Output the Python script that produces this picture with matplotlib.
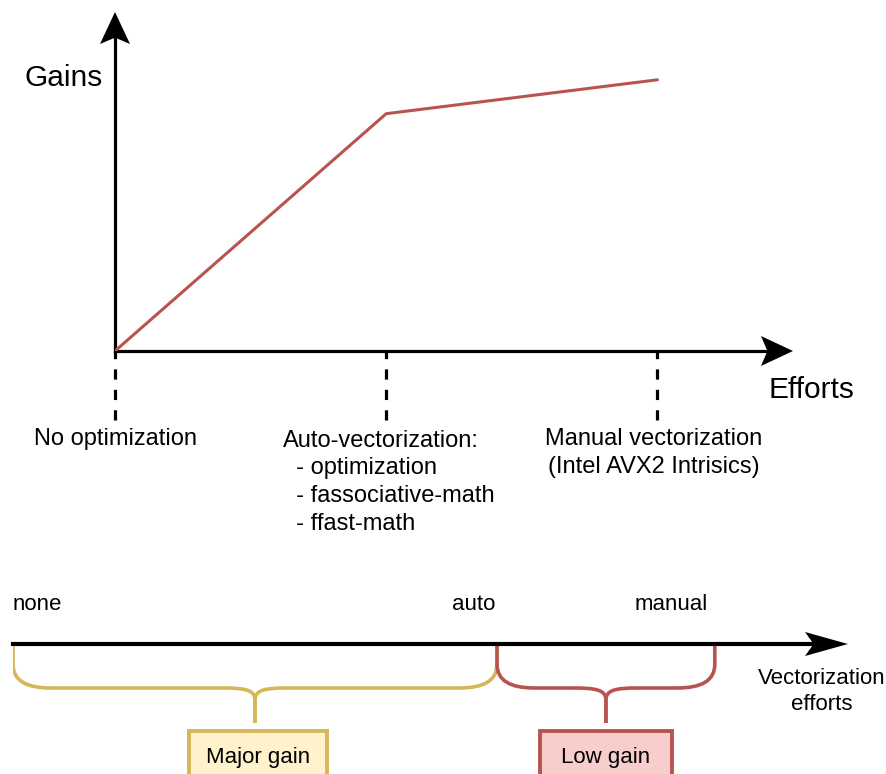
import matplotlib.pyplot as plt
from matplotlib.path import Path
from matplotlib.patches import PathPatch, Polygon, Rectangle

plt.rcParams['font.family'] = ['Liberation Sans', 'DejaVu Sans']

# --- Datos ---
effort_x = [0, 1, 2]
gains = [0.0, 0.70, 0.80]
level_labels = ["No optimization",
                "Auto-vectorization:\n  - optimization\n  - fassociative-math\n  - ffast-math",
                "Manual vectorization\n(Intel AVX2 Intrisics)"]
bottom_labels = ["none", "auto", "manual"]
bottom_x = [0, 1, 1.45]
gain_groups = ["Major gain", "Low gain"]
group_spans = [(0, 1), (1, 1.45)]

YELLOW, YELLOW_FILL = "#d6b656", "#fff2cc"
RED, RED_FILL = "#b85450", "#f8cecc"
W, H = 886, 774

fig = plt.figure(figsize=(W / 100, H / 100), dpi=100)

# capa en pixeles para flechas y titulos de ejes
ax = fig.add_axes([0, 0, 1, 1])
ax.set_xlim(0, W)
ax.set_ylim(H, 0)
ax.axis('off')

# --- Grafico superior ---
ox, oy = 115, 351
ax_top = fig.add_axes([ox / W, (H - oy) / H, (793 - ox) / W, (oy - 12) / H])
ax_top.set_xlim(0, 2.5)
ax_top.set_ylim(0, 1)
ax_top.axis('off')
ax_top.patch.set_alpha(0)

ax_top.plot(effort_x, gains, color=RED, lw=2.2, solid_capstyle='round', zorder=3)
ax_top.plot([0, 2.42], [0, 0], color='black', lw=2.3, clip_on=False)
ax_top.plot([0, 0], [0, 0.93], color='black', lw=2.3, clip_on=False)
ax_top.vlines(effort_x, -0.205, 0, colors='black', lw=2.3,
              linestyles=(0, (3.2, 3.2)), clip_on=False)

px_top = 271  # pixeles por unidad de esfuerzo
ax_top.text(effort_x[0], -0.226, level_labels[0], ha='center', va='top', fontsize=17)
ax_top.text(effort_x[1] + 3 / px_top, -0.232, level_labels[1], ha='center', va='top',
            fontsize=17, multialignment='left', linespacing=1.34)
ax_top.text(effort_x[2] - 4 / px_top, -0.226, level_labels[2], ha='center', va='top',
            fontsize=17, linespacing=1.4)

# flechas (punta con muesca)
def arrow_head(x, y, dx, dy, length, half):
    nx, ny = -dy, dx
    pts = [(x, y),
           (x - dx * length + nx * half, y - dy * length + ny * half),
           (x - dx * length * 0.8, y - dy * length * 0.8),
           (x - dx * length - nx * half, y - dy * length - ny * half)]
    ax.add_patch(Polygon(pts, closed=True, color='black', lw=0))

arrow_head(115, 12, 0, -1, 32, 15)
arrow_head(793, 351, 1, 0, 32, 15)
arrow_head(848, 644, 1, 0, 43, 12)

ax.text(64, 78, "Gains", ha='center', va='center', fontsize=21.5)
ax.text(811, 390, "Efforts", ha='center', va='center', fontsize=21.5)

# --- Diagrama inferior ---
px_unit = 484
ax_bot = fig.add_axes([13 / W, 0, (848 - 13) / W, 1])
ax_bot.set_xlim(0, (848 - 13) / px_unit)
ax_bot.set_ylim(H, 0)
ax_bot.axis('off')
ax_bot.patch.set_alpha(0)

ax_bot.plot([0, 1.67], [644, 644], color='black', lw=3, clip_on=False, zorder=3)

label_shift = [0, -2, -7]
for i, (lab, xb) in enumerate(zip(bottom_labels, bottom_x)):
    ax_bot.text(xb + label_shift[i] / px_unit, 604, lab,
                ha='left' if i == 0 else 'right', va='center', fontsize=16)

ax.text(822, 679, "Vectorization", ha='center', va='center', fontsize=16)
ax.text(822, 704, "efforts", ha='center', va='center', fontsize=16)


def brace(x0, x1, color):
    xt = (x0 + x1) / 2
    top, mid, bot = 644, 688, 723
    rx, ry = 38 / px_unit, 24
    mrx = 32 / px_unit
    for side in (x0, x1):
        s = 1 if side == x0 else -1
        verts = [(side, top), (side, mid - ry),
                 (side, mid - ry * 0.3), (side + s * rx * 0.35, mid), (side + s * rx, mid),
                 (xt - s * mrx, mid),
                 (xt - s * mrx * 0.3, mid), (xt, mid + 2), (xt, mid + 12),
                 (xt, bot)]
        codes = [Path.MOVETO, Path.LINETO,
                 Path.CURVE4, Path.CURVE4, Path.CURVE4,
                 Path.LINETO,
                 Path.CURVE4, Path.CURVE4, Path.CURVE4,
                 Path.LINETO]
        ax_bot.add_patch(PathPatch(Path(verts, codes), fill=False, edgecolor=color,
                                   lw=2.6, capstyle='butt', joinstyle='round'))
    return xt


colors = [(YELLOW, YELLOW_FILL), (RED, RED_FILL)]
box_w = [138 / px_unit, 132 / px_unit]
box_dx = [3 / px_unit, 0]
for (a, b), lab, (ec, fc), bw, dx in zip(group_spans, gain_groups, colors, box_w, box_dx):
    xt = brace(a, b, ec)
    ax_bot.add_patch(Rectangle((xt + dx - bw / 2, 731), bw, 60, facecolor=fc,
                               edgecolor=ec, lw=2.8, clip_on=False))
    ax_bot.text(xt + dx, 757, lab, ha='center', va='center', fontsize=16)

fig.savefig('out.png', dpi=100)
